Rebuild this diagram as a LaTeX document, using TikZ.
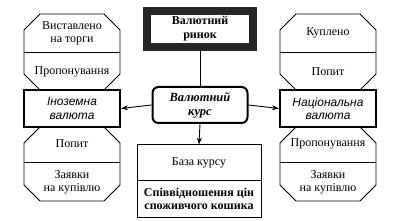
\documentclass[tikz,border=0pt]{standalone}
\usepackage{fontspec}
\setmainfont{Liberation Serif}
\newfontfamily\labsans{Liberation Sans}
\usetikzlibrary{arrows.meta}
\newcommand\myoct[5]{%
  \draw[octline] ({#1+#5},#2) -- ({#3-#5},#2) -- (#3,{#2+#5}) -- (#3,{#4-#5})
   -- ({#3-#5},#4) -- ({#1+#5},#4) -- (#1,{#4-#5}) -- (#1,{#2+#5}) -- cycle;}
\tikzset{
  octline/.style={line width=0.9pt, line join=miter},
  txt/.style={align=center, font=\fontsize{12}{13}\selectfont, inner sep=0pt},
  valbox/.style={draw, line width=2pt, minimum width=96pt, minimum height=37pt,
     align=center, font=\labsans\itshape\fontsize{12}{13.5}\selectfont},
  conn/.style={line width=0.9pt},
  arr/.style={conn, -{Stealth[length=7pt,width=5pt]}},
}
\begin{document}
\begin{tikzpicture}[x=1pt,y=-1pt]
\useasboundingbox (0,0) rectangle (395,221);
% central top box
\node[draw=black!85, line width=8pt, minimum width=106pt, minimum height=36pt,
      align=center, font=\bfseries\fontsize{12}{14}\selectfont] (rynok) at (200,29)
      {Валютний\\ринок};
% central rate box
\node[draw, line width=2pt, rounded corners=6pt, minimum width=95pt, minimum height=36pt,
      align=center, font=\bfseries\itshape\fontsize{12.5}{14}\selectfont] (kurs) at (200,105)
      {Валютний\\курс};
% base box
\node[draw, line width=1pt, minimum width=124pt, minimum height=72pt] (baza) at (199,181) {};
\draw[conn] (137,180) -- (261,180);
\node[txt] (bazat) at (199,163) {База курсу};
\node[txt, font=\bfseries\fontsize{12}{13}\selectfont] (spiv) at (199,199) {Співвідношення цін\\споживчого кошика};
% left column
\node[valbox] (inoz) at (72,108.5) {Іноземна\\валюта};
\myoct{24}{14}{120}{90}{16}
\draw[conn] (24,52) -- (120,52);
\node[txt] (l1) at (72,33) {Виставлено\\на торги};
\node[txt] (l2) at (72,72) {Пропонування};
\myoct{24}{127}{120}{201}{16}
\draw[conn] (24,162) -- (120,162);
\node[txt] (l3) at (72,144) {Попит};
\node[txt] (l4) at (72,182) {Заявки\\на купівлю};
% right column
\node[valbox] (nats) at (328,108.5) {Національна\\валюта};
\myoct{280}{14}{376}{90}{16}
\draw[conn] (280,52) -- (376,52);
\node[txt] (r1) at (328,33) {Куплено};
\node[txt] (r2) at (328,72) {Попит};
\myoct{280}{127}{376}{201}{16}
\draw[conn] (280,162) -- (376,162);
\node[txt] (r3) at (328,144) {Пропонування};
\node[txt] (r4) at (328,182) {Заявки\\на купівлю};
% connectors
\draw[conn] (rynok.south) -- (kurs.north);
\draw[arr] (kurs.west) -- (inoz.east);
\draw[arr] (kurs.east) -- (nats.west);
\draw[arr] (kurs.south) -- (baza.north);
\end{tikzpicture}
\end{document}
